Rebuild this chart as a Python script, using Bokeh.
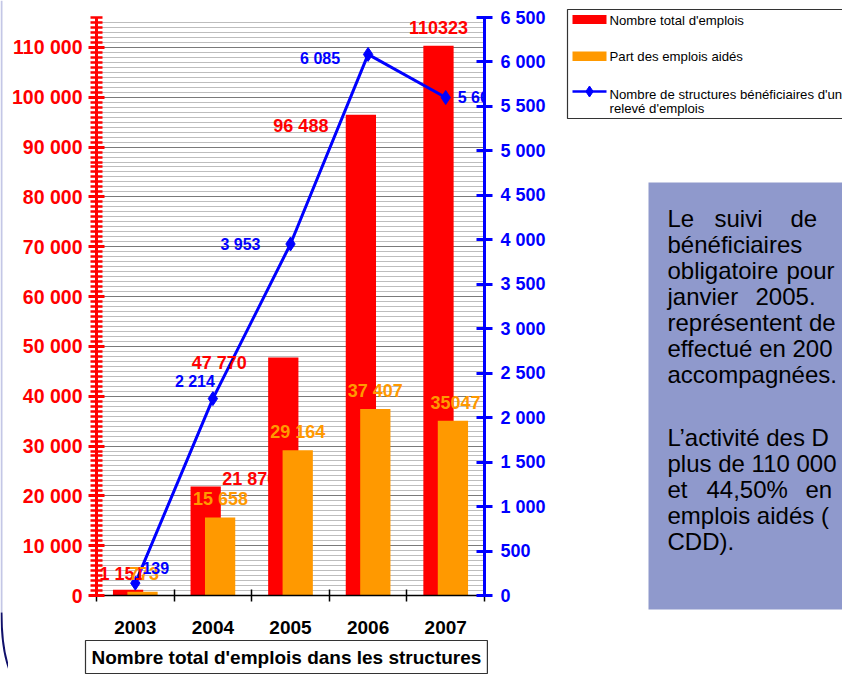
from bokeh.plotting import figure
from bokeh.layouts import row
from bokeh.models import Range1d, LinearAxis, FixedTicker, ColumnDataSource, LabelSet, Label, Title
from bokeh.core.properties import value
from bokeh.embed import file_html
from bokeh.resources import INLINE

# ---------------- data ----------------
years = ["2003", "2004", "2005", "2006", "2007"]
total_emplois = [1151, 21876, 47770, 96488, 110323]
emplois_aides = [773, 15658, 29164, 37407, 35047]
structures = [139, 2214, 3953, 6085, 5600]
total_labels = ["1 151", "21 876", "47 770", "96 488", "110323"]
aides_labels = ["773", "15 658", "29 164", "37 407", "35047"]
structures_labels = ["139", "2 214", "3 953", "6 085", "5 600"]
left_ticks = [0, 10000, 20000, 30000, 40000, 50000, 60000, 70000, 80000, 90000, 100000, 110000]
left_tick_labels = ["0", "10 000", "20 000", "30 000", "40 000", "50 000", "60 000",
                    "70 000", "80 000", "90 000", "100 000", "110 000"]
right_ticks = [0, 500, 1000, 1500, 2000, 2500, 3000, 3500, 4000, 4500, 5000, 5500, 6000, 6500]
right_tick_labels = ["0", "500", "1 000", "1 500", "2 000", "2 500", "3 000", "3 500",
                     "4 000", "4 500", "5 000", "5 500", "6 000", "6 500"]
legend_labels = ["Nombre total d'emplois", "Part des emplois aidés",
                 "Nombre de structures bénéficiaires d'un", "relevé d'emplois"]
x_title = "Nombre total d'emplois dans les structures"

# ---------------- styles / layout ----------------
RED = "#FF0000"
ORANGE = "#FF9900"
BLUE = "#0000FF"
FONT = "Liberation Sans"
BAR_W = 0.39
DODGE = 0.093
STRIP_W = 8

idx = list(range(1, len(years) + 1))
x_red = [i - DODGE for i in idx]
x_orange = [i + DODGE for i in idx]

n_in = len(years) - 1  # the last blue label is drawn separately (it crosses the right axis)
src = ColumnDataSource(dict(
    x=idx, x_red=x_red, x_orange=x_orange,
    total=total_emplois, aides=emplois_aides, struct=structures,
    total_lbl=total_labels, aides_lbl=aides_labels, struct_lbl=structures_labels,
    red_dx=[-6, 44, -64, -60, 0], red_dy=[15.5, 7, -6, -11, 18.6],
    or_dx=[1.5, 0.5, 0, 0, 2.5], or_dy=[18.5, 18.5, 18.5, 18.5, 18.5],
))
src_bl = ColumnDataSource(dict(
    x=idx[:n_in], struct=structures[:n_in], struct_lbl=structures_labels[:n_in],
    bl_dx=[20.5, -18, -50, -48], bl_dy=[15.6, 17, -1, -3.6],
))

p = figure(width=560 - STRIP_W, height=675, x_range=Range1d(0.5, 5.5),
           y_range=Range1d(0, 116000), output_backend="svg", toolbar_location=None,
           min_border_left=96 - STRIP_W, min_border_right=76, min_border_top=17,
           min_border_bottom=77)
p.frame_align = False
p.extra_y_ranges = {"right": Range1d(0, 6500)}
p.outline_line_color = None
p.background_fill_color = "white"

# grid
left_ticker = FixedTicker(ticks=left_ticks, minor_ticks=list(range(0, 116001, 1000)))
p.ygrid.ticker = left_ticker
p.ygrid.grid_line_color = "#7a7a7a"
p.ygrid.grid_line_width = 1
p.ygrid.minor_grid_line_color = "#bdbdbd"
p.ygrid.minor_grid_line_width = 1
p.xgrid.grid_line_color = None

# left axis
ya = p.yaxis[0]
ya.ticker = left_ticker
ya.major_label_overrides = dict(zip(left_ticks, left_tick_labels))
ya.axis_line_color = RED
ya.axis_line_width = 3
ya.major_tick_line_color = RED
ya.major_tick_line_width = 3
ya.major_tick_out = 8
ya.major_tick_in = 8
ya.minor_tick_line_color = RED
ya.minor_tick_line_width = 2.5
ya.minor_tick_out = 6
ya.minor_tick_in = 6
ya.major_label_text_color = RED
ya.major_label_text_font = FONT
ya.major_label_text_font_style = "bold"
ya.major_label_text_font_size = "19.5px"
ya.major_label_standoff = 6

# right axis
ra = LinearAxis(y_range_name="right", ticker=FixedTicker(ticks=right_ticks, minor_ticks=[]))
ra.major_label_overrides = dict(zip(right_ticks, right_tick_labels))
ra.axis_line_color = BLUE
ra.axis_line_width = 3
ra.major_tick_line_color = BLUE
ra.major_tick_line_width = 3
ra.major_tick_out = 8
ra.major_tick_in = 8
ra.minor_tick_line_color = None
ra.major_label_text_color = BLUE
ra.major_label_text_font = FONT
ra.major_label_text_font_style = "bold"
ra.major_label_text_font_size = "18px"
ra.major_label_standoff = 8
p.add_layout(ra, "right")

# bottom axis
xa = p.xaxis[0]
xa.ticker = FixedTicker(ticks=idx, minor_ticks=[i - 0.5 for i in idx] + [idx[-1] + 0.5])
xa.major_label_overrides = dict(zip(idx, years))
xa.axis_line_color = "black"
xa.axis_line_width = 1.5
xa.major_tick_line_color = None
xa.major_tick_out = 6
xa.minor_tick_line_color = "black"
xa.minor_tick_line_width = 1.5
xa.minor_tick_out = 6
xa.minor_tick_in = 6
xa.major_label_text_color = "black"
xa.major_label_text_font = FONT
xa.major_label_text_font_style = "bold"
xa.major_label_text_font_size = "19px"
xa.major_label_standoff = 19

# x title in a box below the axis
p.add_layout(Title(text=x_title, align="left", offset=-11, standoff=4,
                   text_font=FONT, text_font_style="bold", text_font_size="19px",
                   text_color="black", border_line_color="#333333", border_line_width=1.2,
                   background_fill_color="white", padding=6), "below")

# bars
p.vbar(x="x_red", top="total", width=BAR_W, bottom=0, source=src,
       fill_color=RED, line_color=None)
p.vbar(x="x_orange", top="aides", width=BAR_W, bottom=0, source=src,
       fill_color=ORANGE, line_color=None)

# data labels (bars)
p.add_layout(LabelSet(x="x_red", y="total", text="total_lbl", source=src,
                      x_offset="red_dx", y_offset="red_dy",
                      text_align="center", text_baseline="middle",
                      text_color=RED, text_font=value(FONT), text_font_style="bold",
                      text_font_size="18px"))
p.add_layout(LabelSet(x="x_orange", y="aides", text="aides_lbl", source=src,
                      x_offset="or_dx", y_offset="or_dy",
                      text_align="center", text_baseline="middle",
                      text_color=ORANGE, text_font=value(FONT), text_font_style="bold",
                      text_font_size="18px"))

# line
p.line(x="x", y="struct", source=src, y_range_name="right", line_color=BLUE, line_width=3)
p.scatter(x="x", y="struct", source=src, y_range_name="right", marker="diamond",
          size=14, fill_color=BLUE, line_color=BLUE)
p.add_layout(LabelSet(x="x", y="struct", text="struct_lbl", source=src_bl, y_range_name="right",
                      x_offset="bl_dx", y_offset="bl_dy",
                      text_align="center", text_baseline="middle",
                      text_color=BLUE, text_font=value(FONT), text_font_style="bold",
                      text_font_size="16px"))
p.add_layout(Label(x=idx[-1], y=structures[-1], y_range_name="right",
                   text=structures_labels[-1], x_offset=12, y_offset=0,
                   text_align="left", text_baseline="middle",
                   text_color=BLUE, text_font=FONT, text_font_style="bold",
                   text_font_size="16px"))

# ---------------- left strip: page border decoration ----------------
s = figure(width=STRIP_W, height=675, x_range=Range1d(0, STRIP_W), y_range=Range1d(675, 0),
           output_backend="svg", toolbar_location=None, min_border=0,
           x_axis_location=None, y_axis_location=None)
s.frame_align = False
s.grid.visible = False
s.outline_line_color = None
s.line(x=[1, 1], y=[0, 612], line_color="#c4c7e6", line_width=2)
s.quadratic(x0=[1], y0=[612], x1=[12], y1=[676], cx=[1], cy=[655],
            line_color="#10106a", line_width=2)

# ---------------- right panel: legend + text box ----------------
r = figure(width=282, height=675, x_range=Range1d(560, 842), y_range=Range1d(675, 0),
           output_backend="svg", toolbar_location=None, min_border=0,
           x_axis_location=None, y_axis_location=None)
r.frame_align = False
r.grid.visible = False
r.outline_line_color = None

# legend
r.quad(left=[567], right=[900], top=[9], bottom=[118], fill_color="white",
       line_color="#333333", line_width=1.2)
r.quad(left=[572], right=[606], top=[14.5], bottom=[23.5], fill_color=RED, line_color=None)
r.quad(left=[572], right=[606], top=[51], bottom=[60.5], fill_color=ORANGE, line_color=None)
r.line(x=[572, 606], y=[91, 91], line_color=BLUE, line_width=2.5)
r.scatter(x=[589], y=[91], marker="diamond", size=11, fill_color=BLUE, line_color=BLUE)
r.text(x=[609, 609, 609, 609], y=[19.5, 56, 93.5, 107.5], text=legend_labels,
       text_align="left", text_baseline="middle", text_font=value(FONT),
       text_font_size="13.2px", text_color="black")

# text box
r.quad(left=[648], right=[900], top=[182], bottom=[609], fill_color="#8F99CC",
       line_color=None)
paragraphs = [
    [
        [("Le", 667), ("suivi", 714), ("de", 790)],
        [("bénéficiaires", 667)],
        [("obligatoire", 667), ("pour", 786)],
        [("janvier", 667), ("2005.", 755)],
        [("représentent de", 667)],
        [("effectué en 200", 667)],
        [("accompagnées.", 667)],
    ],
    [
        [("L’activité des D", 667)],
        [("plus de 110 000", 667)],
        [("et", 667), ("44,50%", 706), ("en", 805)],
        [("emplois aidés (", 667)],
        [("CDD).", 667)],
    ],
]
para_top = [218, 437]
wx, wy, wt = [], [], []
for pi, para in enumerate(paragraphs):
    for k, ln in enumerate(para):
        for word, xx in ln:
            wx.append(xx)
            wy.append(para_top[pi] + 26 * k)
            wt.append(word)
r.text(x=wx, y=wy, text=wt, text_align="left", text_baseline="middle",
       text_font=value(FONT), text_font_size="24px", text_color="black")

layout = row(s, p, r)
open("out.html", "w").write(file_html(layout, INLINE))
